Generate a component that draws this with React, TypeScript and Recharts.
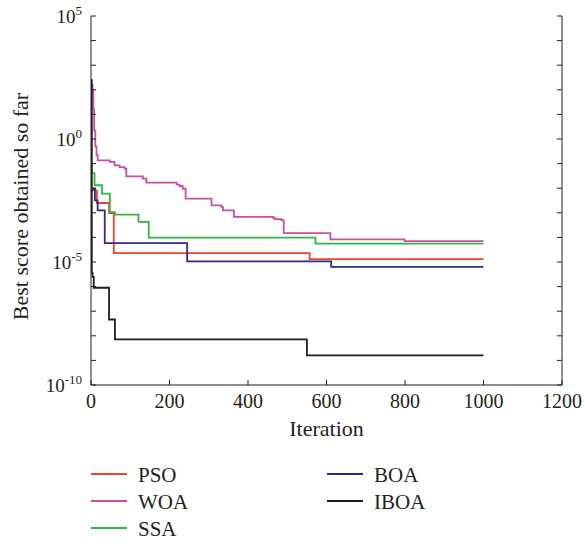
import { LineChart, Line, XAxis, YAxis } from "recharts";

const INK = "#231f20";
const FONT = '"Liberation Serif", "Times New Roman", serif';

const xTicks = [0, 200, 400, 600, 800, 1000, 1200];
const yTicks = [
  1e-10, 1e-9, 1e-8, 1e-7, 1e-6, 1e-5, 1e-4, 1e-3, 1e-2, 1e-1, 1, 1e1, 1e2, 1e3,
  1e4, 1e5,
];

// convergence curves (iteration where each level starts)
const psoIter = [0, 15, 46, 58, 557, 1000];
const psoScore = [8.1e-3, 2.5e-3, 9.8e-4, 2.3e-5, 1.3e-5, 1.3e-5];

const woaIter = [
  0, 4, 6, 8, 11, 14, 17, 48, 60, 73, 86, 90, 132, 141, 218, 226, 234, 241, 307,
  332, 336, 364, 464, 468, 485, 491, 610, 799, 1000,
];
const woaScore = [
  158, 95, 16, 2.2, 0.5, 0.22, 0.135, 0.117, 0.085, 0.072, 0.063, 0.03, 0.0245,
  0.017, 0.014, 0.012, 0.0095, 0.0038, 0.002, 0.00174, 0.00126, 6.8e-4, 6.3e-4,
  5.5e-4, 5.0e-4, 1.5e-4, 8.3e-5, 7.1e-5, 7.1e-5,
];

const ssaIter = [0, 1, 9, 28, 48, 61, 121, 147, 572, 1000];
const ssaScore = [
  0.1, 0.041, 0.0132, 6.0e-3, 1.07e-3, 8.5e-4, 4.3e-4, 9.8e-5, 5.6e-5, 5.6e-5,
];

const boaIter = [0, 10, 17, 35, 245, 612, 1000];
const boaScore = [9.5e-3, 3.2e-3, 1.26e-3, 5.9e-5, 1.07e-5, 6.3e-6, 6.3e-6];

const iboaIter = [0, 2, 4, 7, 46, 61, 550, 1000];
const iboaScore = [245, 3.5e-6, 2.5e-6, 9e-7, 4.6e-8, 7.1e-9, 1.6e-9, 1.6e-9];

const names = ["PSO", "WOA", "SSA", "BOA", "IBOA"];
const colors = ["#f1432b", "#c8509f", "#33b34a", "#2d2b8e", "#1e1e1e"];

function toPoints(iters: number[], scores: number[]) {
  return iters.map((it, i) => ({ iter: it, score: scores[i] }));
}

const series = [
  toPoints(psoIter, psoScore),
  toPoints(woaIter, woaScore),
  toPoints(ssaIter, ssaScore),
  toPoints(boaIter, boaScore),
  toPoints(iboaIter, iboaScore),
];

function LeftTick({ x, y, payload }: any) {
  const e = Math.round(Math.log10(payload.value));
  return (
    <g>
      <line x1={x} x2={x + 5} y1={y} y2={y} stroke={INK} />
      {e % 5 === 0 && (
        <text x={x - 9} y={y + 7} textAnchor="end" fontSize={19} fill={INK} fontFamily={FONT}>
          <tspan>10</tspan>
          <tspan fontSize={13} dy={-8}>
            {e}
          </tspan>
        </text>
      )}
    </g>
  );
}

function RightTick({ x, y }: any) {
  return <line x1={x} x2={x - 5} y1={y} y2={y} stroke={INK} />;
}

function BottomTick({ x, y, payload }: any) {
  return (
    <g>
      <line x1={x} x2={x} y1={y} y2={y - 5} stroke={INK} />
      <text x={x} y={y + 23} textAnchor="middle" fontSize={20} fill={INK} fontFamily={FONT}>
        {payload.value}
      </text>
    </g>
  );
}

function TopTick({ x, y }: any) {
  return <line x1={x} x2={x} y1={y} y2={y + 5} stroke={INK} />;
}

function YTitle({ viewBox }: any) {
  const cy = (viewBox?.y ?? 16) + (viewBox?.height ?? 369) / 2 + 6;
  return (
    <text
      x={20}
      y={cy}
      transform={`rotate(-90, 20, ${cy})`}
      textAnchor="middle"
      dominantBaseline="central"
      fontSize={22}
      fill={INK}
      fontFamily={FONT}
    >
      Best score obtained so far
    </text>
  );
}

export default function App() {
  return (
    <div style={{ position: "absolute", left: 0, top: 0, width: 585, height: 544, background: "#fff" }}>
      <LineChart
        width={585}
        height={544}
        margin={{ top: 16, right: 0, bottom: 0, left: 0 }}
        style={{ fontFamily: FONT }}
      >
        <XAxis
          xAxisId="bottom"
          type="number"
          dataKey="iter"
          domain={[0, 1200]}
          ticks={xTicks}
          interval={0}
          allowDataOverflow
          height={159}
          tickSize={0}
          tickMargin={0}
          tick={<BottomTick />}
          axisLine={{ stroke: INK }}
          label={{ value: "Iteration", position: "insideTop", offset: 35, fontSize: 22, fill: INK }}
        />
        <XAxis
          xAxisId="top"
          orientation="top"
          type="number"
          domain={[0, 1200]}
          ticks={xTicks}
          interval={0}
          allowDataOverflow
          height={0}
          tickSize={0}
          tickMargin={0}
          tick={<TopTick />}
          axisLine={{ stroke: INK }}
        />
        <YAxis
          yAxisId="left"
          scale="log"
          domain={[1e-10, 1e5]}
          ticks={yTicks}
          interval={0}
          allowDataOverflow
          width={91}
          tickSize={0}
          tickMargin={0}
          tick={<LeftTick />}
          axisLine={{ stroke: INK }}
          label={<YTitle />}
        />
        <YAxis
          yAxisId="right"
          orientation="right"
          scale="log"
          domain={[1e-10, 1e5]}
          ticks={yTicks}
          interval={0}
          allowDataOverflow
          width={23}
          tickSize={0}
          tickMargin={0}
          tick={<RightTick />}
          axisLine={{ stroke: INK }}
        />
        {series.map((d, i) => (
          <Line
            key={names[i]}
            data={d}
            dataKey="score"
            name={names[i]}
            xAxisId="bottom"
            yAxisId="left"
            type="stepAfter"
            stroke={colors[i]}
            strokeWidth={1.8}
            dot={false}
            isAnimationActive={false}
          />
        ))}
      </LineChart>
      <svg
        width={585}
        height={544}
        style={{ position: "absolute", left: 0, top: 0, pointerEvents: "none" }}
      >
        {names.map((n, i) => {
          const col = i < 3 ? 0 : 1;
          const row = i < 3 ? i : i - 3;
          const x0 = col === 0 ? 91 : 327;
          const y0 = 474 + row * 27;
          return (
            <g key={n}>
              <line x1={x0} x2={x0 + 36} y1={y0} y2={y0} stroke={colors[i]} strokeWidth={2} />
              <text x={x0 + 47} y={y0 + 7.5} fontSize={21} fill={INK} fontFamily={FONT}>
                {n}
              </text>
            </g>
          );
        })}
      </svg>
    </div>
  );
}
